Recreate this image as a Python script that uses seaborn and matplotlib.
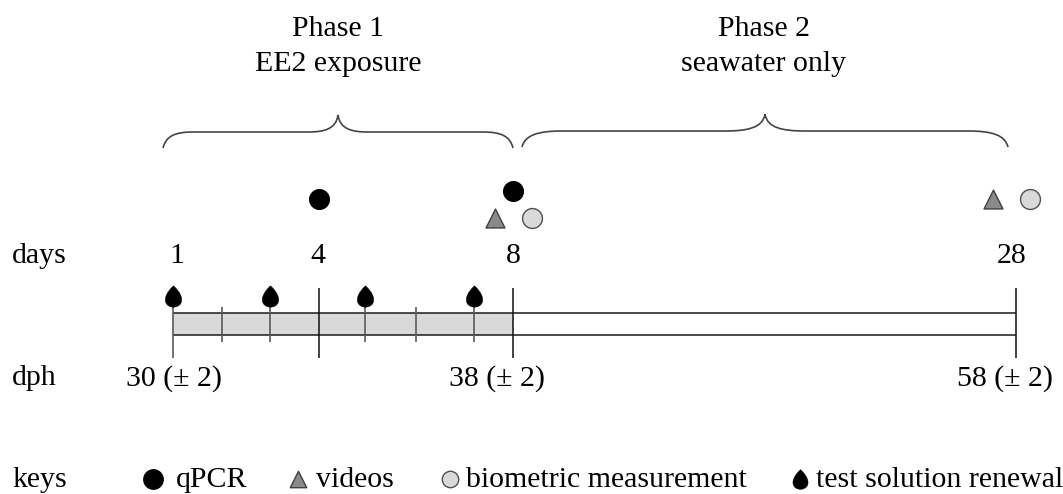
import numpy as np
import pandas as pd
import matplotlib
matplotlib.use("Agg")
import matplotlib.pyplot as plt
import matplotlib.transforms as mtransforms
from matplotlib.path import Path
from matplotlib.patches import PathPatch
import seaborn as sns

# ---------------- data ----------------
phase_titles = ["Phase 1", "Phase 2"]
phase_subtitles = ["EE2 exposure", "seawater only"]
day_ticks = [1, 4, 8, 28]
day_tick_labels = ["1", "4", "8", "28"]
dph_days = [1, 8, 28]
dph_labels = ["30 (± 2)", "38 (± 2)", "58 (± 2)"]
minor_days = [2, 6]
renewal_days = [1, 3, 4.95, 7.2]
qpcr_days = [4, 8]
video_days = [8, 28]
biometric_days = [8, 28]
exposure_span = [1, 8]
timeline_span = [1, 28]
row_labels = ["days", "dph", "keys"]
key_labels = ["qPCR", "videos", "biometric measurement", "test solution renewal"]

# ---------------- layout / style ----------------
W, H = 1063, 494
DPI = 100
# piecewise-linear time scale (day -> pixel): phase 2 is compressed
A_DAY = [1.0, 8.0, 28.0]
A_PX = [173.0, 513.0, 1016.0]
S1 = (A_PX[1] - A_PX[0]) / (A_DAY[1] - A_DAY[0])
S2 = (A_PX[2] - A_PX[1]) / (A_DAY[2] - A_DAY[1])


def fwd(d):
    d = np.asarray(d, dtype=float)
    return np.where(d < A_DAY[1], A_PX[0] + (d - A_DAY[0]) * S1,
                    A_PX[1] + (d - A_DAY[1]) * S2)


def inv(x):
    x = np.asarray(x, dtype=float)
    return np.where(x < A_PX[1], A_DAY[0] + (x - A_PX[0]) / S1,
                    A_DAY[1] + (x - A_PX[1]) / S2)


BAR_TOP, BAR_BOT = 313.3, 335.3
MAJOR_Y = (287.5, 357.5)
FIRST_Y = (306.5, 357.5)
MINOR_Y = (306.5, 341.5)
DROP_Y = 296
DAY_LABEL_Y = 263
DPH_ROW_Y = 385
DPH_LABEL_Y = 386
KEY_Y = 487
LABEL_X = 12
day_label_dx = [4, -1, 0, -4]
dph_label_dx = [1, -16, -11]

marker_layout = {  # event -> day -> (dx px, y px)
    "qPCR": {4: (0, 199), 8: (0, 191)},
    "videos": {8: (-18, 218), 28: (-23, 199)},
    "biometric": {8: (19, 217.5), 28: (14, 199)},
}
marker_style = {
    "qPCR": dict(marker="o", s=205, color="black", edgecolor="black", linewidth=0.8),
    "videos": dict(marker="^", s=185, color="#8a8a8a", edgecolor="#404040", linewidth=1.0),
    "biometric": dict(marker="o", s=205, color="#d9d9d9", edgecolor="#505050", linewidth=1.0),
}

# teardrop marker shape
t = np.linspace(0, 2 * np.pi, 120)
drop_path = Path(np.column_stack([0.98 * np.sin(t) * np.sin(t / 2) ** 0.9, np.cos(t)]))

sns.set_theme(style="white")
plt.rcParams["font.family"] = ["Liberation Serif", "DejaVu Serif"]
plt.rcParams["text.color"] = "black"
FS = 21.5

fig = plt.figure(figsize=(W / DPI, H / DPI), dpi=DPI)
ax = fig.add_axes([0, 0, 1, 1])
ax.set_xscale("function", functions=(fwd, inv))
ax.set_xlim(float(inv(0)), float(inv(W)))
ax.set_ylim(H, 0)
ax.axis("off")

px = mtransforms.Affine2D().scale(1 / W, -1 / H).translate(0, 1) + ax.transAxes

# ---- timeline bar ----
ax.fill_between(exposure_span, BAR_TOP, BAR_BOT, color="#d9d9d9", linewidth=0, zorder=1)
ax.hlines([BAR_TOP, BAR_BOT], timeline_span[0], timeline_span[1], color="#1a1a1a", lw=1.1, zorder=2)
ax.vlines(day_ticks[1:], *MAJOR_Y, color="#111111", lw=1.1, zorder=3)
ax.vlines(day_ticks[:1], *FIRST_Y, color="#5a5a5a", lw=1.2, zorder=3)
ax.vlines(minor_days, *MINOR_Y, color="#5a5a5a", lw=1.2, zorder=3)
ax.vlines(renewal_days[1:], *MINOR_Y, color="#5a5a5a", lw=1.2, zorder=3)

# ---- renewal drops ----
sns.scatterplot(x=renewal_days, y=[DROP_Y] * len(renewal_days), marker=drop_path,
                s=235, color="black", edgecolor="black", linewidth=0.3,
                legend=False, ax=ax, zorder=5)

# ---- sampling events ----
for ev, days in [("qPCR", qpcr_days), ("videos", video_days), ("biometric", biometric_days)]:
    xs, ys = [], []
    for d in days:
        dx, y = marker_layout[ev][d]
        xs.append(float(inv(fwd(d) + dx)))
        ys.append(y)
    sns.scatterplot(x=xs, y=ys, legend=False, ax=ax, zorder=5, **marker_style[ev])

# ---- braces ----
def brace(x0, x1, xm, y_end, y_mid, y_peak, r_end, r_mid):
    verts = [
        (x0, y_end),
        (x0 + 3, y_mid + 4), (x0 + r_end * 0.4, y_mid), (x0 + r_end, y_mid),
        (xm - r_mid, y_mid),
        (xm - r_mid * 0.45, y_mid), (xm - 2, y_mid - 3), (xm, y_peak),
        (xm + 2, y_mid - 3), (xm + r_mid * 0.45, y_mid), (xm + r_mid, y_mid),
        (x1 - r_end, y_mid),
        (x1 - r_end * 0.4, y_mid), (x1 - 3, y_mid + 4), (x1, y_end),
    ]
    codes = [Path.MOVETO, Path.CURVE4, Path.CURVE4, Path.CURVE4, Path.LINETO,
             Path.CURVE4, Path.CURVE4, Path.CURVE4, Path.CURVE4, Path.CURVE4, Path.CURVE4,
             Path.LINETO, Path.CURVE4, Path.CURVE4, Path.CURVE4]
    return PathPatch(Path(verts, codes), facecolor="none", edgecolor="#444444", lw=1.2, transform=px)

ax.add_patch(brace(163, 513, 338, 148, 132, 115, 30, 30))
ax.add_patch(brace(522, 1008, 765, 147, 131, 114, 40, 40))

# ---- texts ----
phase_x = [338, 764]
for x, t1, t2 in zip(phase_x, phase_titles, phase_subtitles):
    ax.text(x, 36, t1, transform=px, ha="center", va="baseline", fontsize=FS)
    ax.text(x, 71, t2, transform=px, ha="center", va="baseline", fontsize=FS)

for lab, y in zip(row_labels, [DAY_LABEL_Y, DPH_ROW_Y, KEY_Y]):
    ax.text(LABEL_X, y, lab, transform=px, ha="left", va="baseline", fontsize=FS)

for d, lab, dx in zip(day_ticks, day_tick_labels, day_label_dx):
    ax.text(float(fwd(d)) + dx, DAY_LABEL_Y, lab, transform=px, ha="center", va="baseline", fontsize=FS)

for d, lab, dx in zip(dph_days, dph_labels, dph_label_dx):
    ax.text(float(fwd(d)) + dx, DPH_LABEL_Y, lab, transform=px, ha="center", va="baseline", fontsize=FS)

# ---- keys ----
key_marker_x = [153, 298, 450, 800]
key_text_x = [176, 316, 466, 816]
key_styles = [
    dict(marker="o", s=200, color="black", edgecolor="black", linewidth=0.8),
    dict(marker="^", s=140, color="#8a8a8a", edgecolor="#404040", linewidth=1.0),
    dict(marker="o", s=140, color="#d9d9d9", edgecolor="#505050", linewidth=1.0),
    dict(marker=drop_path, s=200, color="black", edgecolor="black", linewidth=0.3),
]
for mx, tx, lab, st in zip(key_marker_x, key_text_x, key_labels, key_styles):
    ax.scatter([mx], [479], transform=px, zorder=5, **st)
    ax.text(tx, KEY_Y, lab, transform=px, ha="left", va="baseline", fontsize=FS)

fig.savefig("out.png", dpi=DPI)
